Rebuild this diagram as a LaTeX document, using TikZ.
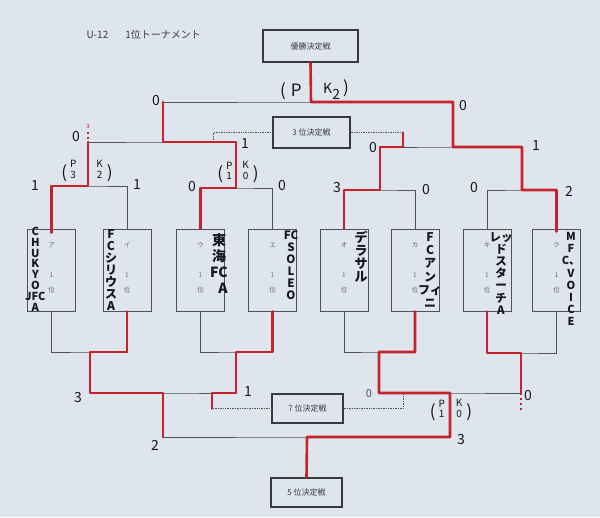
\documentclass[tikz,border=0pt]{standalone}
\usepackage{fontspec}
\newfontfamily\jp{Noto Sans CJK JP}
\usepackage{tikz}
\usetikzlibrary{
  calc,        % 坐标计算
  positioning  % 节点相对定位
}
\definecolor{paper}{RGB}{222,229,237}
\definecolor{pen}{RGB}{198,34,42}
\definecolor{ink}{RGB}{22,22,28}
\definecolor{print}{RGB}{78,82,90}
\tikzset{
  bracket line/.style={
    draw=print,
    line width=0.7pt
  },
  win line/.style={
    draw=pen,
    line width=2.6pt,
    line cap=round,
    line join=round
  },
  match box/.style={
    draw=ink!85,
    line width=1.2pt,
    inner sep=0pt,
    font=\jp\fontsize{8}{9}\selectfont,
    text=ink!85
  },
  team box/.style={
    draw=print,
    line width=0.8pt,
    minimum width=48pt,
    minimum height=82pt,
    inner sep=0pt
  },
  seed label/.style={
    font=\jp\fontsize{6.5}{7}\selectfont,
    text=print!85,
    inner sep=0pt
  },
  hand/.style={
    font=\jp\bfseries,
    text=ink,
    align=center,
    inner sep=0pt
  },
  score/.style={
    font=\jp\fontsize{14}{14}\selectfont,
    text=ink,
    inner sep=0pt
  }
}
% PK 标记: P 的分数, K 的分数, 中间间隔
\newcommand{\pkscore}[3]{%
  {\fontsize{17}{17}\selectfont(}\hspace{3pt}%
  {\fontsize{10}{10}\selectfont\shortstack{P\\#1}}\hspace{#3}%
  {\fontsize{10}{10}\selectfont\shortstack{K\\#2}}\hspace{4pt}%
  {\fontsize{17}{17}\selectfont)}}

\begin{document}
\begin{tikzpicture}[x=1pt, y=-1pt]
    \fill[paper] (0,0) rectangle (600,517);
    \useasboundingbox (0,0) rectangle (600,517);

    % 1. 标题与决定战方框
    \node[anchor=west, font=\jp\fontsize{10}{10}\selectfont, text=ink!85] (title) at (83,35)
      {U-12\hspace{17pt}1位トーナメント};
    \node[match box, minimum width=95pt, minimum height=32pt] (win) at (310.5,46) {優勝決定戦};
    \node[match box, minimum width=77pt, minimum height=31pt] (third) at (311.5,132.5) {3 位決定戦};
    \node[match box, minimum width=71pt, minimum height=29pt] (seventh) at (307.5,408.5) {7 位決定戦};
    \node[match box, minimum width=71pt, minimum height=29pt] (fifth) at (306.5,492.5) {5 位決定戦};

    % 2. 八支队伍的方框
    \foreach \n/\x/\k in {a/51.5/ア, b/127/イ, c/200.5/ウ, d/272.5/エ,
                          e/344/オ, f/415/カ, g/487/キ, h/556.5/ク} {
      \node[team box] (\n) at (\x,270) {};
      \node[seed label] (\n-k) at (\x,245) {\k};
      \node[seed label] (\n-1) at (\x,275) {1};
      \node[seed label] (\n-i) at (\x,290) {位};
    }

    % 3. 上半区连线
    \coordinate (q1) at (88,186);
    \coordinate (q2) at (236,188);
    \coordinate (q3) at (380,190);
    \coordinate (q4) at (522,190);
    \coordinate (s1) at (163,142);
    \coordinate (s2) at (453,147);
    \coordinate (f0) at (311,102);
    \coordinate (t1) at (213,142);
    \coordinate (t2) at (403,147);
    \draw[bracket line] (a.north) |- (q1) -| (b.north);
    \draw[bracket line] (c.north) |- (q2) -| (d.north);
    \draw[bracket line] (e.north) |- (q3) -| (f.north);
    \draw[bracket line] (g.north) |- (q4) -| (h.north);
    \draw[bracket line] (q1) |- (s1) -| (q2);
    \draw[bracket line] (q3) |- (s2) -| (q4);
    \draw[bracket line] (s1) |- (f0) -| (s2);
    \draw[bracket line] (f0) -- (win.south);
    \draw[bracket line, densely dotted] (third.west) -| (t1);
    \draw[bracket line, densely dotted] (third.east) -| (t2);

    % 4. 下半区连线
    \coordinate (lq1) at (90,352);
    \coordinate (lq2) at (236,352);
    \coordinate (lq3) at (379,352);
    \coordinate (lq4) at (521,353);
    \coordinate (ls1) at (163,393);
    \coordinate (ls2) at (450,393);
    \coordinate (lf) at (307,437);
    \coordinate (u1) at (212,393);
    \coordinate (u2) at (403,393);
    \draw[bracket line] (a.south) |- (lq1) -| (b.south);
    \draw[bracket line] (c.south) |- (lq2) -| (d.south);
    \draw[bracket line] (e.south) |- (lq3) -| (f.south);
    \draw[bracket line] (g.south) |- (lq4) -| (h.south);
    \draw[bracket line] (lq1) |- (ls1) -| (lq2);
    \draw[bracket line] (lq3) |- (ls2) -| (lq4);
    \draw[bracket line] (ls1) |- (lf) -| (ls2);
    \draw[bracket line] (lf) -- (fifth.north);
    \draw[bracket line, densely dotted] (seventh.west) -| (u1);
    \draw[bracket line, densely dotted] (seventh.east) -| (u2);

    % 5. 红笔: 胜者路线
    \draw[win line] ([yshift=-4pt]a.north) |- (q1) -- (q1 |- s1);
    \draw[win line] (c.north) |- (q2) -- (q2 |- s1) -- (s1) -- (s1 |- f0);
    \draw[win line] (e.north) |- (q3) -- (q3 |- s2) -- (t2) -- (t2 |- third.east);
    \draw[win line] ([yshift=-3pt]h.north) |- (q4) -- (q4 |- s2) -- (s2) -- (s2 |- f0)
      -- (f0) -- (win.south);
    \draw[win line] (b.south) |- (lq1) -- (lq1 |- ls1) -- (ls1) -- (ls1 |- lf);
    \draw[win line] (d.south) |- (lq2) -- (lq2 |- ls1) -- (u1) -- (u1 |- seventh.west);
    \draw[win line] (f.south) |- (lq3) -- (lq3 |- ls2) -- (ls2) -- (ls2 |- lf)
      -- (lf) -- (fifth.north);
    \draw[win line] (g.south) |- (lq4) -- (lq4 |- ls2);
    \draw[win line, line cap=butt, dash pattern=on 2pt off 3pt] (lq4 |- ls2) -- ++(0,19);
    \draw[win line, line width=1.6pt, line cap=butt, dash pattern=on 2pt off 2.5pt] (88,132) -- (88,141);
    \node[font=\jp\fontsize{6}{6}\selectfont, text=pen, inner sep=0pt] (red3) at (88,126) {3};

    % 6. 手写的队名
    \node[hand, anchor=north west, font=\jp\bfseries\fontsize{11}{10.8}\selectfont] (na) at (25,227)
      {C\\H\\U\\K\\Y\\O\\JFC\\A};
    \node[hand, anchor=north, font=\jp\bfseries\fontsize{12}{12.1}\selectfont] (nb) at (111,229)
      {F\\C\\シ\\リ\\ウ\\ス\\A};
    \node[hand, anchor=north, font=\jp\bfseries\fontsize{14}{16.2}\selectfont] (nc) at (219,233)
      {東\\海\\FC\\\hspace{8pt}A};
    \node[hand, anchor=north, font=\jp\bfseries\fontsize{11.5}{12}\selectfont] (nd) at (291,231)
      {FC\\S\\O\\L\\E\\O};
    \node[hand, anchor=north, font=\jp\bfseries\fontsize{13}{12.8}\selectfont] (ne) at (361,231)
      {デ\\ラ\\サ\\ル};
    \node[hand, anchor=north, font=\jp\bfseries\fontsize{12}{13.3}\selectfont] (nf) at (430,232)
      {F\\C\\ア\\ン\\フィ\\ニ};
    \node[hand, anchor=north, font=\jp\bfseries\fontsize{11.5}{12.2}\selectfont] (ng) at (501,232)
      {レッ\\ド\\ス\\タ\\ー\\チ\\A};
    \node[hand, anchor=north, font=\jp\bfseries\fontsize{11}{12.2}\selectfont] (nh) at (571,232)
      {M\\F\\C、\\V\\O\\I\\C\\E};

    % 7. 比分 (上半区)
    \node[score] (fL) at (156,101) {0};
    \node[score] (fR) at (463,106) {0};
    \node[score] (pkf-l) at (291,91) {{\fontsize{17}{17}\selectfont(}\hspace{5pt}{\fontsize{17}{17}\selectfont P}};
    \node[score] (pkf-r) at (336,90) {K\raisebox{-6pt}{2}\hspace{3pt}{\fontsize{17}{17}\selectfont)}};
    \node[score] (s1L) at (76,137) {0};
    \node[score] (s1R) at (245,144) {1};
    \node[score] (s2L) at (373,148) {0};
    \node[score] (s2R) at (536,146) {1};
    \node[score] (q1L) at (35,186) {1};
    \node[score] (q1R) at (137,185) {1};
    \node[score] (q2L) at (192,187) {0};
    \node[score] (q2R) at (282,186) {0};
    \node[score] (q3L) at (337,188) {3};
    \node[score] (q3R) at (426,190) {0};
    \node[score] (q4L) at (474,188) {0};
    \node[score] (q4R) at (569,191) {2};
    \node[score] (pk1) at (87,171) {\pkscore{3}{2}{20pt}};
    \node[score] (pk2) at (238,172) {\pkscore{1}{0}{10pt}};

    % 8. 比分 (下半区)
    \node[score] (ls1L) at (78,398) {3};
    \node[score] (ls1R) at (248,392) {1};
    \node[score] (lfL) at (155,445) {2};
    \node[score, font=\jp\fontsize{11}{11}\selectfont, text=print] (ls2L) at (369,394) {0};
    \node[score] (ls2R) at (528,396) {0};
    \node[score] (lfR) at (461,440) {3};
    \node[score] (pk3) at (451,410) {\pkscore{1}{0}{11pt}};
\end{tikzpicture}
\end{document}
